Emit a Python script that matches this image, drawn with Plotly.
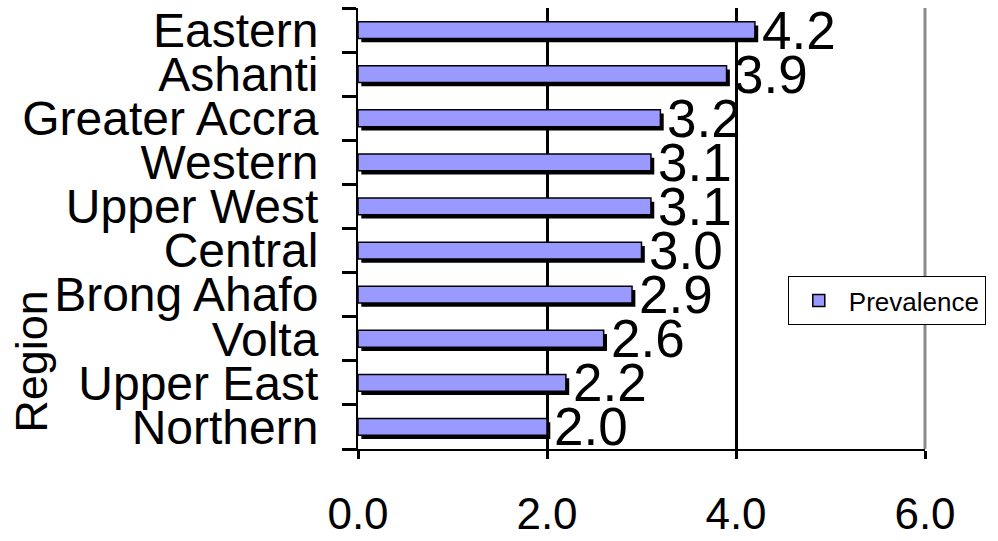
import plotly.graph_objects as go

# Prevalence by region (bottom to top)
regions = ["Northern", "Upper East", "Volta", "Brong Ahafo", "Central",
           "Upper West", "Western", "Greater Accra", "Ashanti", "Eastern"]
prevalence = [2.0, 2.2, 2.6, 2.9, 3.0, 3.1, 3.1, 3.2, 3.9, 4.2]
x_ticks = [0, 2, 4, 6]
x_tick_labels = ["0.0", "2.0", "4.0", "6.0"]

FONT = "Arial, 'Liberation Sans', sans-serif"
BAR_W = 0.38

fig = go.Figure()

# drop shadow behind each bar
fig.add_trace(go.Bar(
    y=regions, x=prevalence, base=0.035, orientation="h",
    width=BAR_W, offset=-BAR_W / 2 - 0.085,
    marker=dict(color="black", line=dict(width=0)),
    showlegend=False, hoverinfo="skip",
))

fig.add_trace(go.Bar(
    y=regions, x=prevalence, orientation="h", name="Prevalence",
    width=BAR_W, offset=-BAR_W / 2,
    marker=dict(color="#9999FF", line=dict(color="black", width=1.5)),
))

# value labels just past the end of each bar
for r, v in zip(regions, prevalence):
    fig.add_annotation(
        x=v, y=r, xref="x", yref="y", text=f"{v:.1f}",
        xanchor="left", yanchor="middle", xshift=5, showarrow=False,
        font=dict(family=FONT, size=53, color="black"),
    )

fig.add_annotation(
    text="Region", textangle=-90, xref="paper", yref="paper",
    x=-0.575, y=0.2, xanchor="center", yanchor="middle", showarrow=False,
    font=dict(family=FONT, size=45, color="black"),
)

# right-hand frame line of the plot area
fig.add_shape(type="line", xref="paper", yref="paper", x0=1, x1=1, y0=0, y1=1,
              line=dict(color="#8a8a8a", width=3), layer="above")

fig.update_layout(
    width=998, height=541,
    margin=dict(l=358, r=73, t=8, b=92),
    paper_bgcolor="white", plot_bgcolor="white",
    barmode="overlay",
    font=dict(family=FONT, color="black"),
    xaxis=dict(
        range=[0, 6], tickvals=x_ticks, ticktext=x_tick_labels,
        showgrid=True, gridcolor="black", gridwidth=2.5, zeroline=False,
        showline=True, linecolor="black", linewidth=2,
        ticks="outside", ticklen=8, tickwidth=3, tickcolor="black",
        ticklabelstandoff=17, tickfont=dict(size=44), automargin=False,
    ),
    yaxis=dict(
        categoryorder="array", categoryarray=regions,
        range=[-0.5, len(regions) - 0.5],
        tickmode="linear", tick0=0, dtick=1,
        showgrid=False, zeroline=False,
        showline=True, linecolor="black", linewidth=2,
        ticks="outside", tickson="boundaries", ticklen=14, tickwidth=3,
        tickcolor="black", ticklabelstandoff=28, tickfont=dict(size=48),
        automargin=False,
    ),
    legend=dict(
        x=0.758, y=0.392, xanchor="left", yanchor="top",
        bgcolor="white", bordercolor="black", borderwidth=1,
        font=dict(size=26), itemwidth=50,
    ),
    showlegend=True,
)

fig.write_html("out.html")
